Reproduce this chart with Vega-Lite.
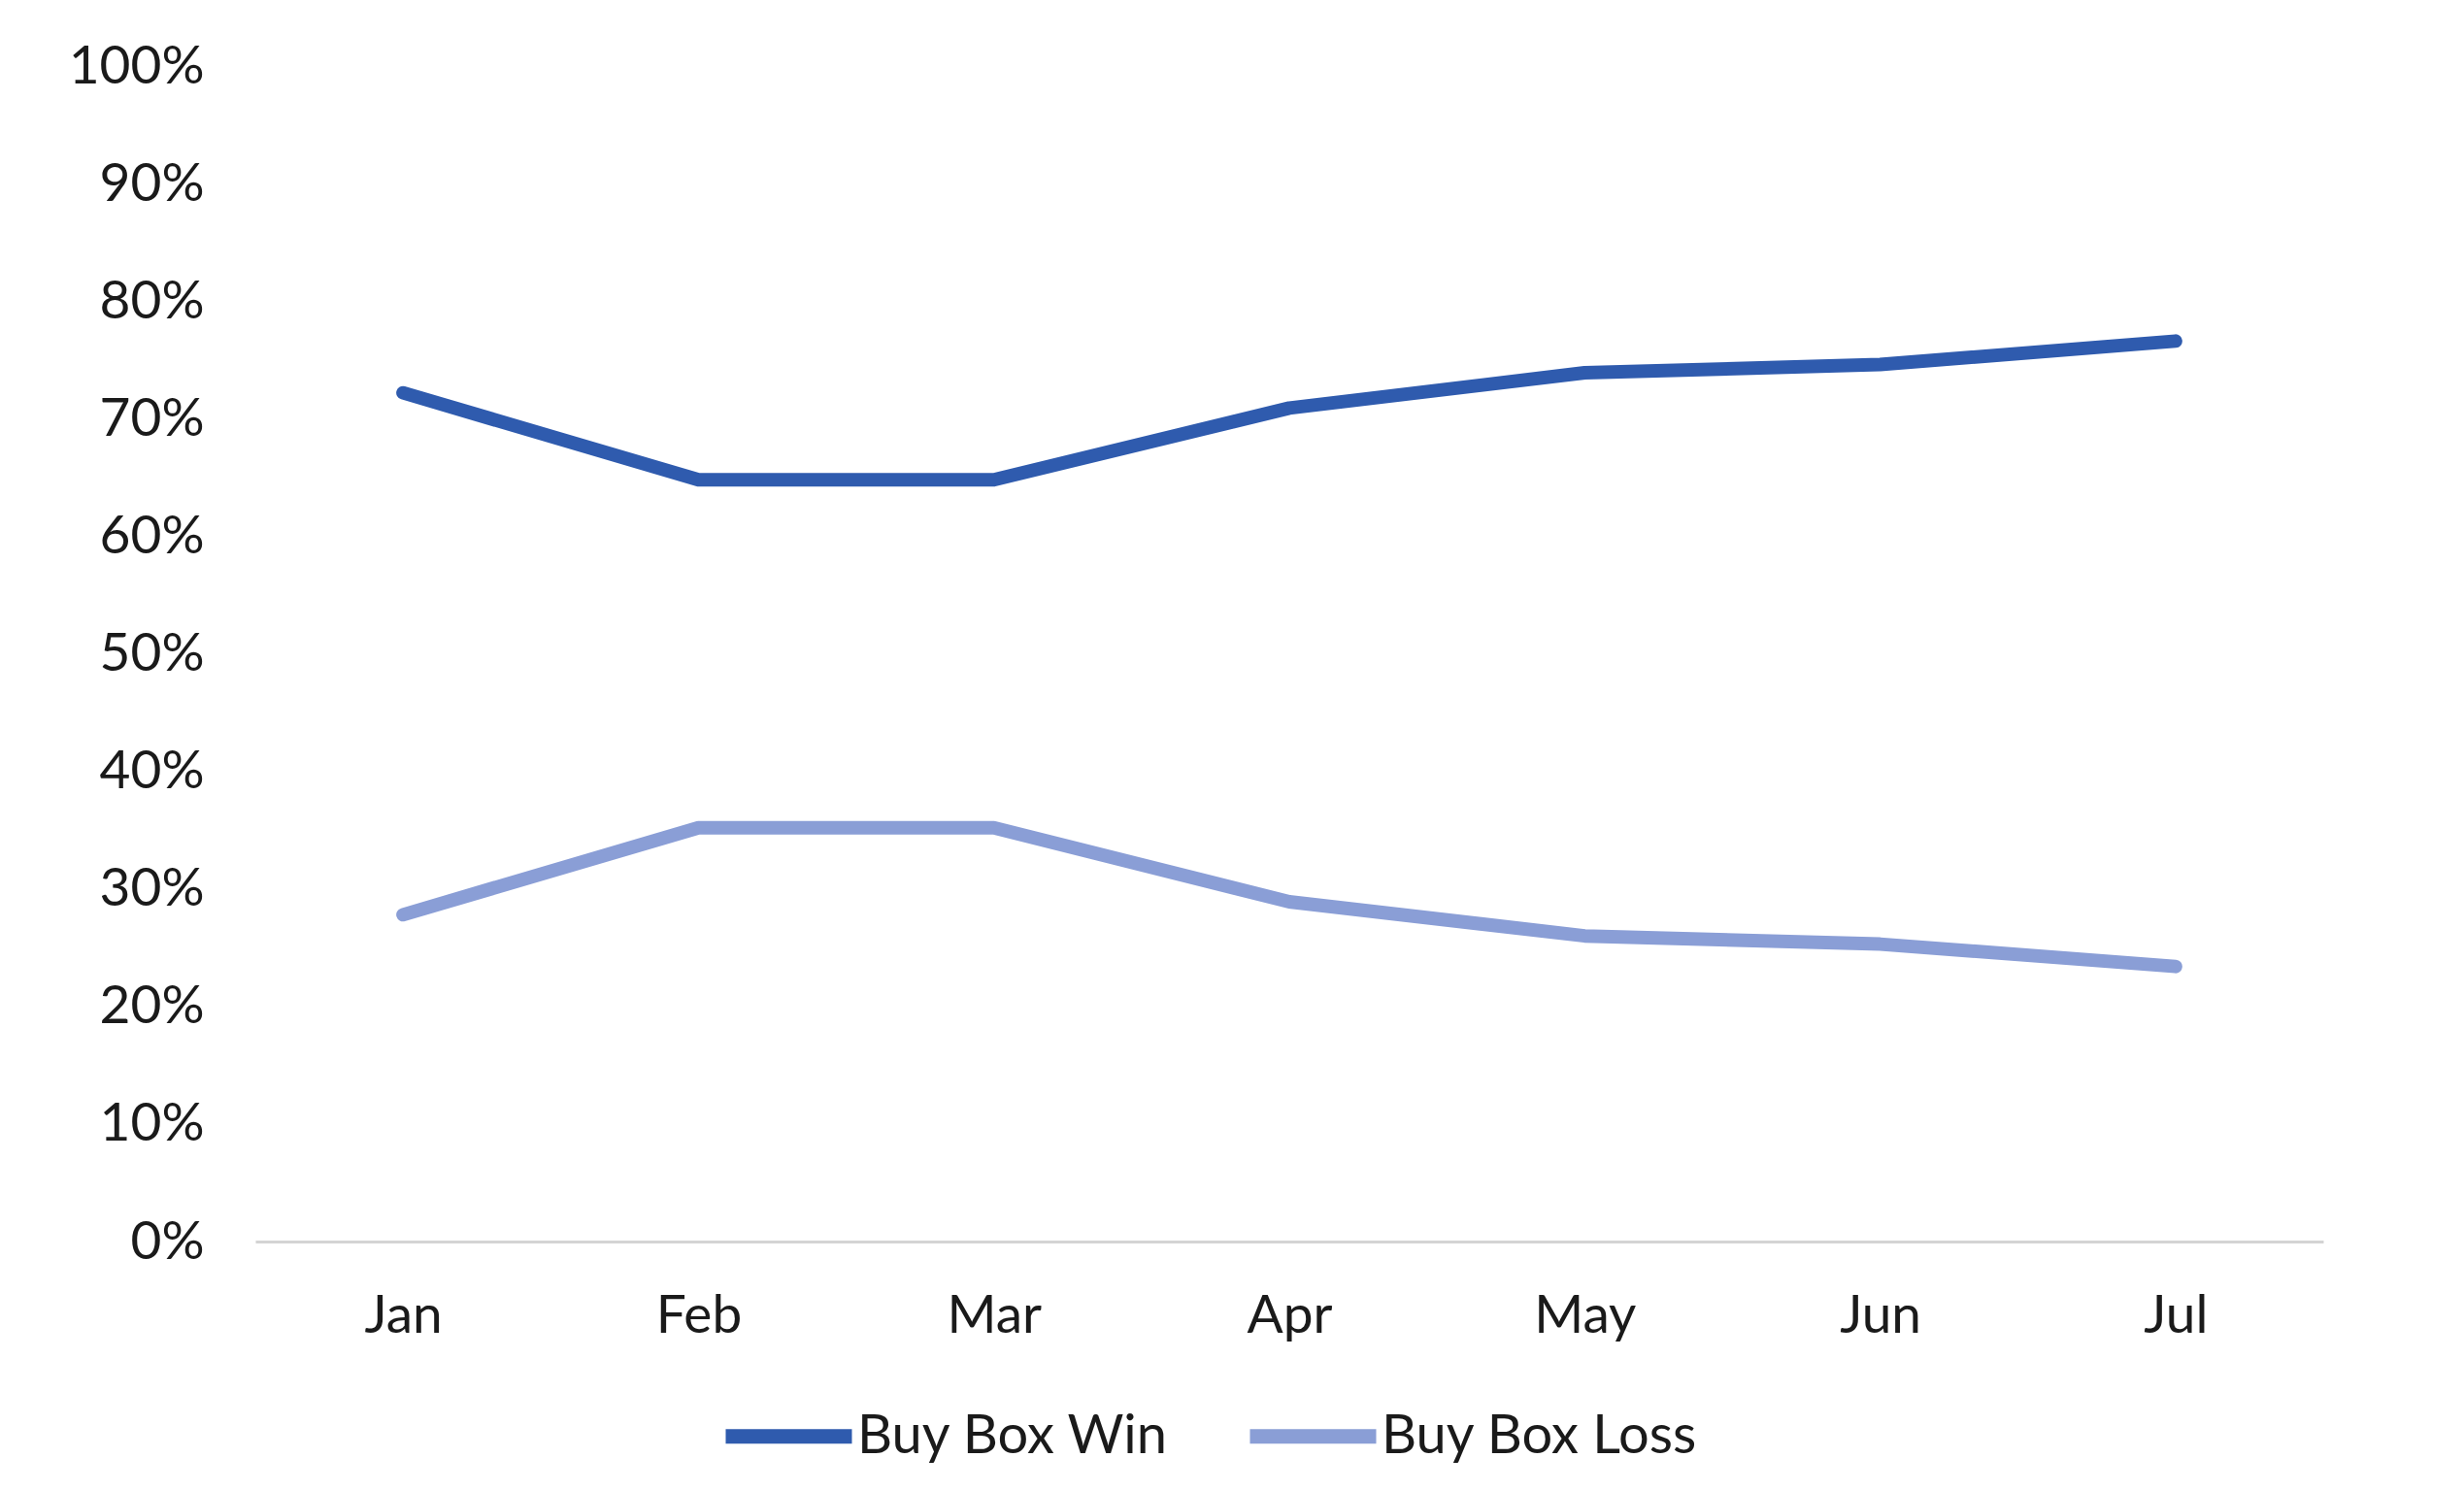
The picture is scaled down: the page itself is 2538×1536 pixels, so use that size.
{
  "$schema": "https://vega.github.io/schema/vega-lite/v6.json",
  "width": 2130,
  "height": 1211,
  "autosize": {"type": "none"},
  "padding": {"left": 263, "top": 68, "right": 145, "bottom": 257},
  "background": "white",
  "config": {
    "font": "Lato",
    "view": {"stroke": null},
    "axis": {"labelFont": "Lato", "labelColor": "#1a1a1a", "labelFontSize": 55, "titleFont": "Lato"},
    "legend": {"labelFont": "Lato"}
  },
  "data": {
    "values": [
      {"month": "Jan", "series": "Buy Box Win", "value": 0.722},
      {"month": "Feb", "series": "Buy Box Win", "value": 0.648},
      {"month": "Mar", "series": "Buy Box Win", "value": 0.648},
      {"month": "Apr", "series": "Buy Box Win", "value": 0.709},
      {"month": "May", "series": "Buy Box Win", "value": 0.739},
      {"month": "Jun", "series": "Buy Box Win", "value": 0.746},
      {"month": "Jul", "series": "Buy Box Win", "value": 0.766},
      {"month": "Jan", "series": "Buy Box Loss", "value": 0.278},
      {"month": "Feb", "series": "Buy Box Loss", "value": 0.352},
      {"month": "Mar", "series": "Buy Box Loss", "value": 0.352},
      {"month": "Apr", "series": "Buy Box Loss", "value": 0.289},
      {"month": "May", "series": "Buy Box Loss", "value": 0.260},
      {"month": "Jun", "series": "Buy Box Loss", "value": 0.253},
      {"month": "Jul", "series": "Buy Box Loss", "value": 0.234}
    ]
  },
  "mark": {"type": "line", "strokeWidth": 14, "strokeCap": "round", "strokeJoin": "round"},
  "encoding": {
    "x": {
      "field": "month",
      "type": "ordinal",
      "sort": ["Jan", "Feb", "Mar", "Apr", "May", "Jun", "Jul"],
      "scale": {"type": "point", "padding": 0.5},
      "axis": {
        "title": null,
        "labelAngle": 0,
        "ticks": false,
        "domain": true,
        "domainColor": "#d4d4d4",
        "domainWidth": 3,
        "labelPadding": 50,
        "grid": false
      }
    },
    "y": {
      "field": "value",
      "type": "quantitative",
      "scale": {"domain": [0, 1], "nice": false},
      "axis": {
        "title": null,
        "values": [0, 0.1, 0.2, 0.3, 0.4, 0.5, 0.6, 0.7, 0.8, 0.9, 1],
        "format": ".0%",
        "ticks": false,
        "domain": false,
        "grid": false,
        "labelPadding": 53
      }
    },
    "color": {
      "field": "series",
      "type": "nominal",
      "sort": ["Buy Box Win", "Buy Box Loss"],
      "scale": {"domain": ["Buy Box Win", "Buy Box Loss"], "range": ["#2f5bae", "#8a9ed6"]},
      "legend": {
        "title": null,
        "orient": "none",
        "direction": "horizontal",
        "legendX": 477,
        "legendY": 1339,
        "symbolType": "stroke",
        "symbolSize": 16900,
        "symbolStrokeWidth": 15,
        "labelFontSize": 56,
        "labelLimit": 1000,
        "labelColor": "#1a1a1a",
        "labelOffset": -2,
        "columnPadding": 52
      }
    }
  }
}
